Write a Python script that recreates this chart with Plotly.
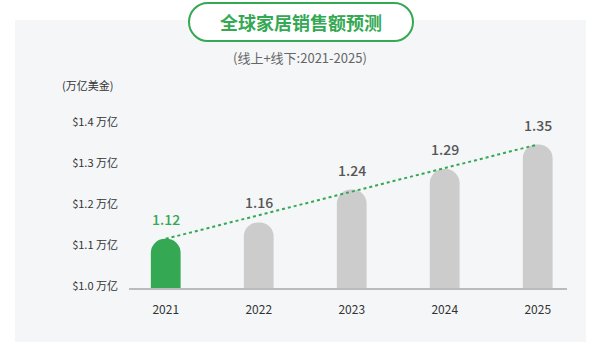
import plotly.graph_objects as go

# ---- data ----
years = ["2021", "2022", "2023", "2024", "2025"]
values = [1.12, 1.16, 1.24, 1.29, 1.35]
value_labels = ["1.12", "1.16", "1.24", "1.29", "1.35"]
tick_vals = [1.0, 1.1, 1.2, 1.3, 1.4]
tick_text = ["$1.0 万亿", "$1.1 万亿", "$1.2 万亿", "$1.3 万亿", "$1.4 万亿"]
title_text = "全球家居销售额预测"
subtitle_text = "(线上+线下:2021-2025)"
unit_text = "(万亿美金)"

GREEN = "#34a853"
GRAY = "#cccccc"
FONT = "Noto Sans CJK SC"

W, H = 600, 357
L, R, T, B = 129, 33, 110, 69
PW, PH = W - L - R, H - T - B


def fx(px):
    return (px - L) / PW


def fy(py):
    return (H - B - py) / PH


bar_colors = [GREEN] + [GRAY] * (len(years) - 1)
label_colors = [GREEN] + ["#555555"] * (len(years) - 1)

fig = go.Figure()
fig.add_trace(go.Bar(
    x=years, y=values, width=0.32,
    marker=dict(color=bar_colors, line=dict(width=0), cornerradius=15),
    hoverinfo="skip",
))
fig.add_trace(go.Scatter(
    x=[years[0], years[-1]], y=[values[0], values[-1]],
    mode="lines", line=dict(color=GREEN, width=2, dash="dot"),
    hoverinfo="skip",
))

annotations = []
for i, (v, lab, c) in enumerate(zip(values, value_labels, label_colors)):
    annotations.append(dict(
        x=i, y=v, text=lab, showarrow=False, yanchor="bottom", yshift=8,
        font=dict(size=14, color=c, family=FONT, weight=500),
    ))
annotations.append(dict(
    xref="paper", yref="paper", x=fx(87), y=fy(85), text=unit_text,
    showarrow=False, xanchor="center", yanchor="middle",
    font=dict(size=11, color="#333333", family=FONT),
))
annotations.append(dict(
    xref="paper", yref="paper", x=fx(301), y=fy(22), text=title_text,
    showarrow=False, xanchor="center", yanchor="middle",
    font=dict(size=18, color=GREEN, family=FONT, weight=700),
))
annotations.append(dict(
    xref="paper", yref="paper", x=fx(300), y=fy(58), text=subtitle_text,
    showarrow=False, xanchor="center", yanchor="middle",
    font=dict(size=13, color="#666666", family=FONT),
))

# pill path for title box (pixel coordinates converted to paper)
x0, x1, y0, y1 = 189, 413, 3, 41
r = (y1 - y0) / 2
k = 0.5523 * r


def P(px, py):
    return f"{fx(px):.5f},{fy(py):.5f}"


path = (
    f"M {P(x0 + r, y0)} L {P(x1 - r, y0)} "
    f"C {P(x1 - r + k, y0)} {P(x1, y0 + r - k)} {P(x1, y0 + r)} "
    f"C {P(x1, y0 + r + k)} {P(x1 - r + k, y1)} {P(x1 - r, y1)} "
    f"L {P(x0 + r, y1)} "
    f"C {P(x0 + r - k, y1)} {P(x0, y0 + r + k)} {P(x0, y0 + r)} "
    f"C {P(x0, y0 + r - k)} {P(x0 + r - k, y0)} {P(x0 + r, y0)} Z"
)

shapes = [
    dict(type="rect", xref="paper", yref="paper", x0=fx(15), x1=fx(586),
         y0=fy(342), y1=fy(20), fillcolor="#f4f6f8", line=dict(width=0),
         layer="below"),
    dict(type="path", xref="paper", yref="paper", path=path,
         fillcolor="white", line=dict(color=GREEN, width=2), layer="below"),
]

fig.update_layout(
    width=W, height=H,
    margin=dict(l=L, r=R, t=T, b=B),
    paper_bgcolor="white", plot_bgcolor="rgba(0,0,0,0)",
    showlegend=False,
    annotations=annotations, shapes=shapes,
    font=dict(family=FONT),
)
fig.update_xaxes(
    type="category", range=[-0.395, 4.315], showgrid=False, zeroline=False,
    showline=True, linecolor="#bbbbbb", linewidth=1.5,
    ticks="", ticklabelstandoff=10,
    tickfont=dict(size=12, color="#333333", family=FONT),
    fixedrange=True,
)
fig.update_yaxes(
    range=[1.0, 1.0 + PH / 410], showgrid=False, zeroline=False,
    showline=False, tickvals=tick_vals, ticktext=tick_text,
    ticks="", ticklabelstandoff=10, ticklabelshift=-2,
    tickfont=dict(size=11, color="#333333", family=FONT),
    fixedrange=True,
)

fig.write_html(
    "out.html",
    config={"displayModeBar": False},
    post_script="document.body.style.margin='0';document.body.style.padding='0';",
)
